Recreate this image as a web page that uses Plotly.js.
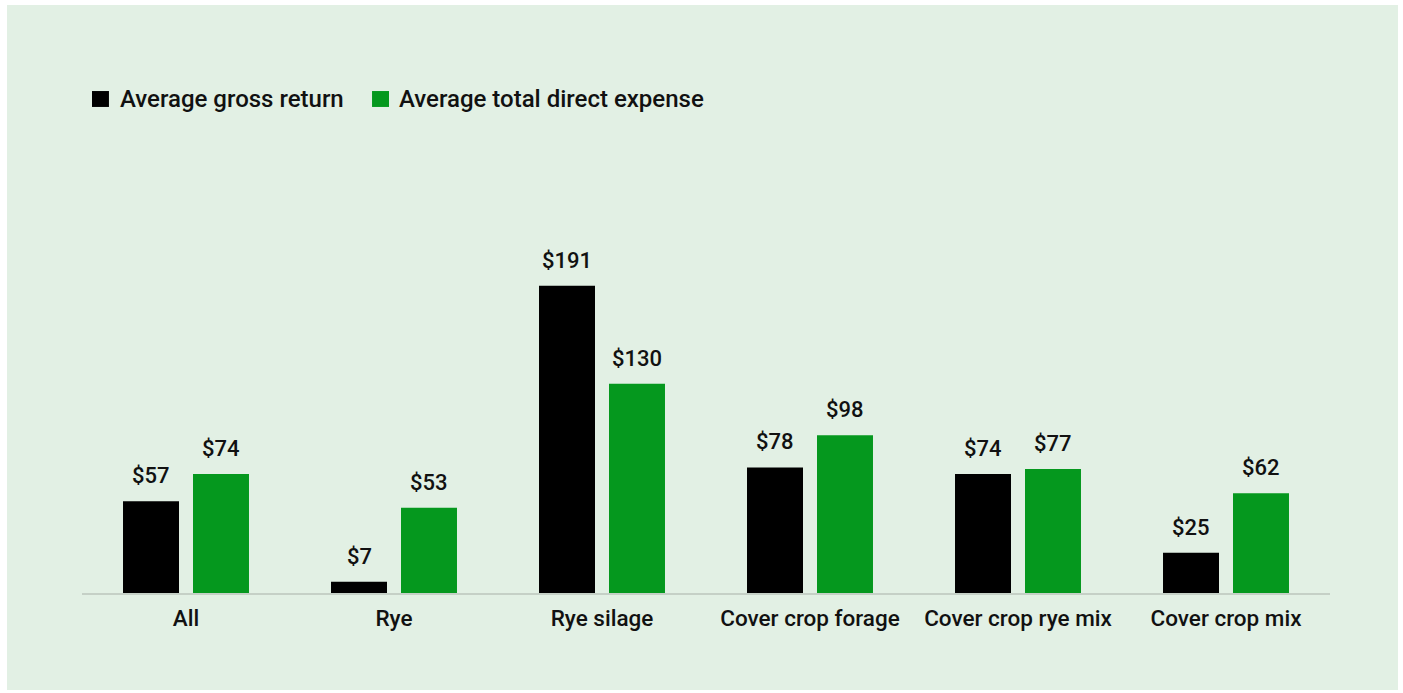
<!DOCTYPE html>
<html><head><meta charset="utf-8">
<script src="https://cdn.plot.ly/plotly-3.0.1.min.js"></script>
<style>
html,body{margin:0;padding:0;background:#ffffff;width:1403px;height:693px;overflow:hidden}
#chart{position:absolute;left:7px;top:5px;width:1391px;height:685px}
</style></head><body>
<div id="chart"></div>
<script>
const categories = ["All", "Rye", "Rye silage", "Cover crop forage", "Cover crop rye mix", "Cover crop mix"];
const grossReturn = [57, 7, 191, 78, 74, 25];
const directExpense = [74, 53, 130, 98, 77, 62];
const seriesNames = ["Average gross return", "Average total direct expense"];
const seriesColors = ["#000000", "#05981e"];

const FONT = "Roboto, Liberation Sans, Arial, sans-serif";
const bargap = 0.327;
const slot = (1 - bargap) / 2;
const idx = categories.map((c, i) => i);

const traces = [grossReturn, directExpense].map((vals, s) => ({
  type: "bar",
  name: seriesNames[s],
  x: idx,
  y: vals,
  marker: {color: seriesColors[s], line: {width: 0}},
  hoverinfo: "none",
  showlegend: false
}));

const annotations = [];
[grossReturn, directExpense].forEach((vals, s) => {
  vals.forEach((v, i) => {
    annotations.push({
      x: i + (s === 0 ? -slot / 2 : slot / 2),
      y: v, xref: "x", yref: "y",
      text: "$" + v, showarrow: false,
      yanchor: "bottom", yshift: 11,
      font: {family: FONT, size: 22, color: "#111111", weight: 500}
    });
  });
});

// manual legend (larger square markers, as in the reference)
const legendSquares = [[0.008, 0.0216], [0.2324, 0.246]];
const legendTextX = [0.0290, 0.2525];
const shapes = [];
seriesNames.forEach((n, s) => {
  shapes.push({
    type: "rect", xref: "paper", yref: "paper",
    x0: legendSquares[s][0], x1: legendSquares[s][1], y0: 1.373, y1: 1.418,
    fillcolor: seriesColors[s], line: {width: 0}
  });
  annotations.push({
    xref: "paper", yref: "paper", x: legendTextX[s], y: 1.396,
    xanchor: "left", yanchor: "middle", showarrow: false, text: n,
    font: {family: FONT, size: 24, color: "#111111", weight: 500}
  });
});

const layout = {
  width: 1391, height: 685,
  paper_bgcolor: "#e2f0e4",
  plot_bgcolor: "rgba(0,0,0,0)",
  margin: {l: 75, r: 68, t: 234, b: 97},
  barmode: "group",
  bargap: bargap,
  bargroupgap: 0.2,
  showlegend: false,
  xaxis: {
    tickmode: "array", tickvals: idx, ticktext: categories,
    range: [-0.5, categories.length - 0.5],
    showline: true, linecolor: "#c5d0c6", linewidth: 2,
    showgrid: false, zeroline: false, ticks: "",
    ticklabelstandoff: 4,
    tickfont: {family: FONT, size: 22.5, color: "#111111", weight: 500}
  },
  yaxis: {
    range: [0, 220], visible: false, showgrid: false, zeroline: false, fixedrange: true
  },
  shapes: shapes,
  annotations: annotations
};

Plotly.newPlot("chart", traces, layout, {displayModeBar: false, staticPlot: true});
</script>
</body></html>
